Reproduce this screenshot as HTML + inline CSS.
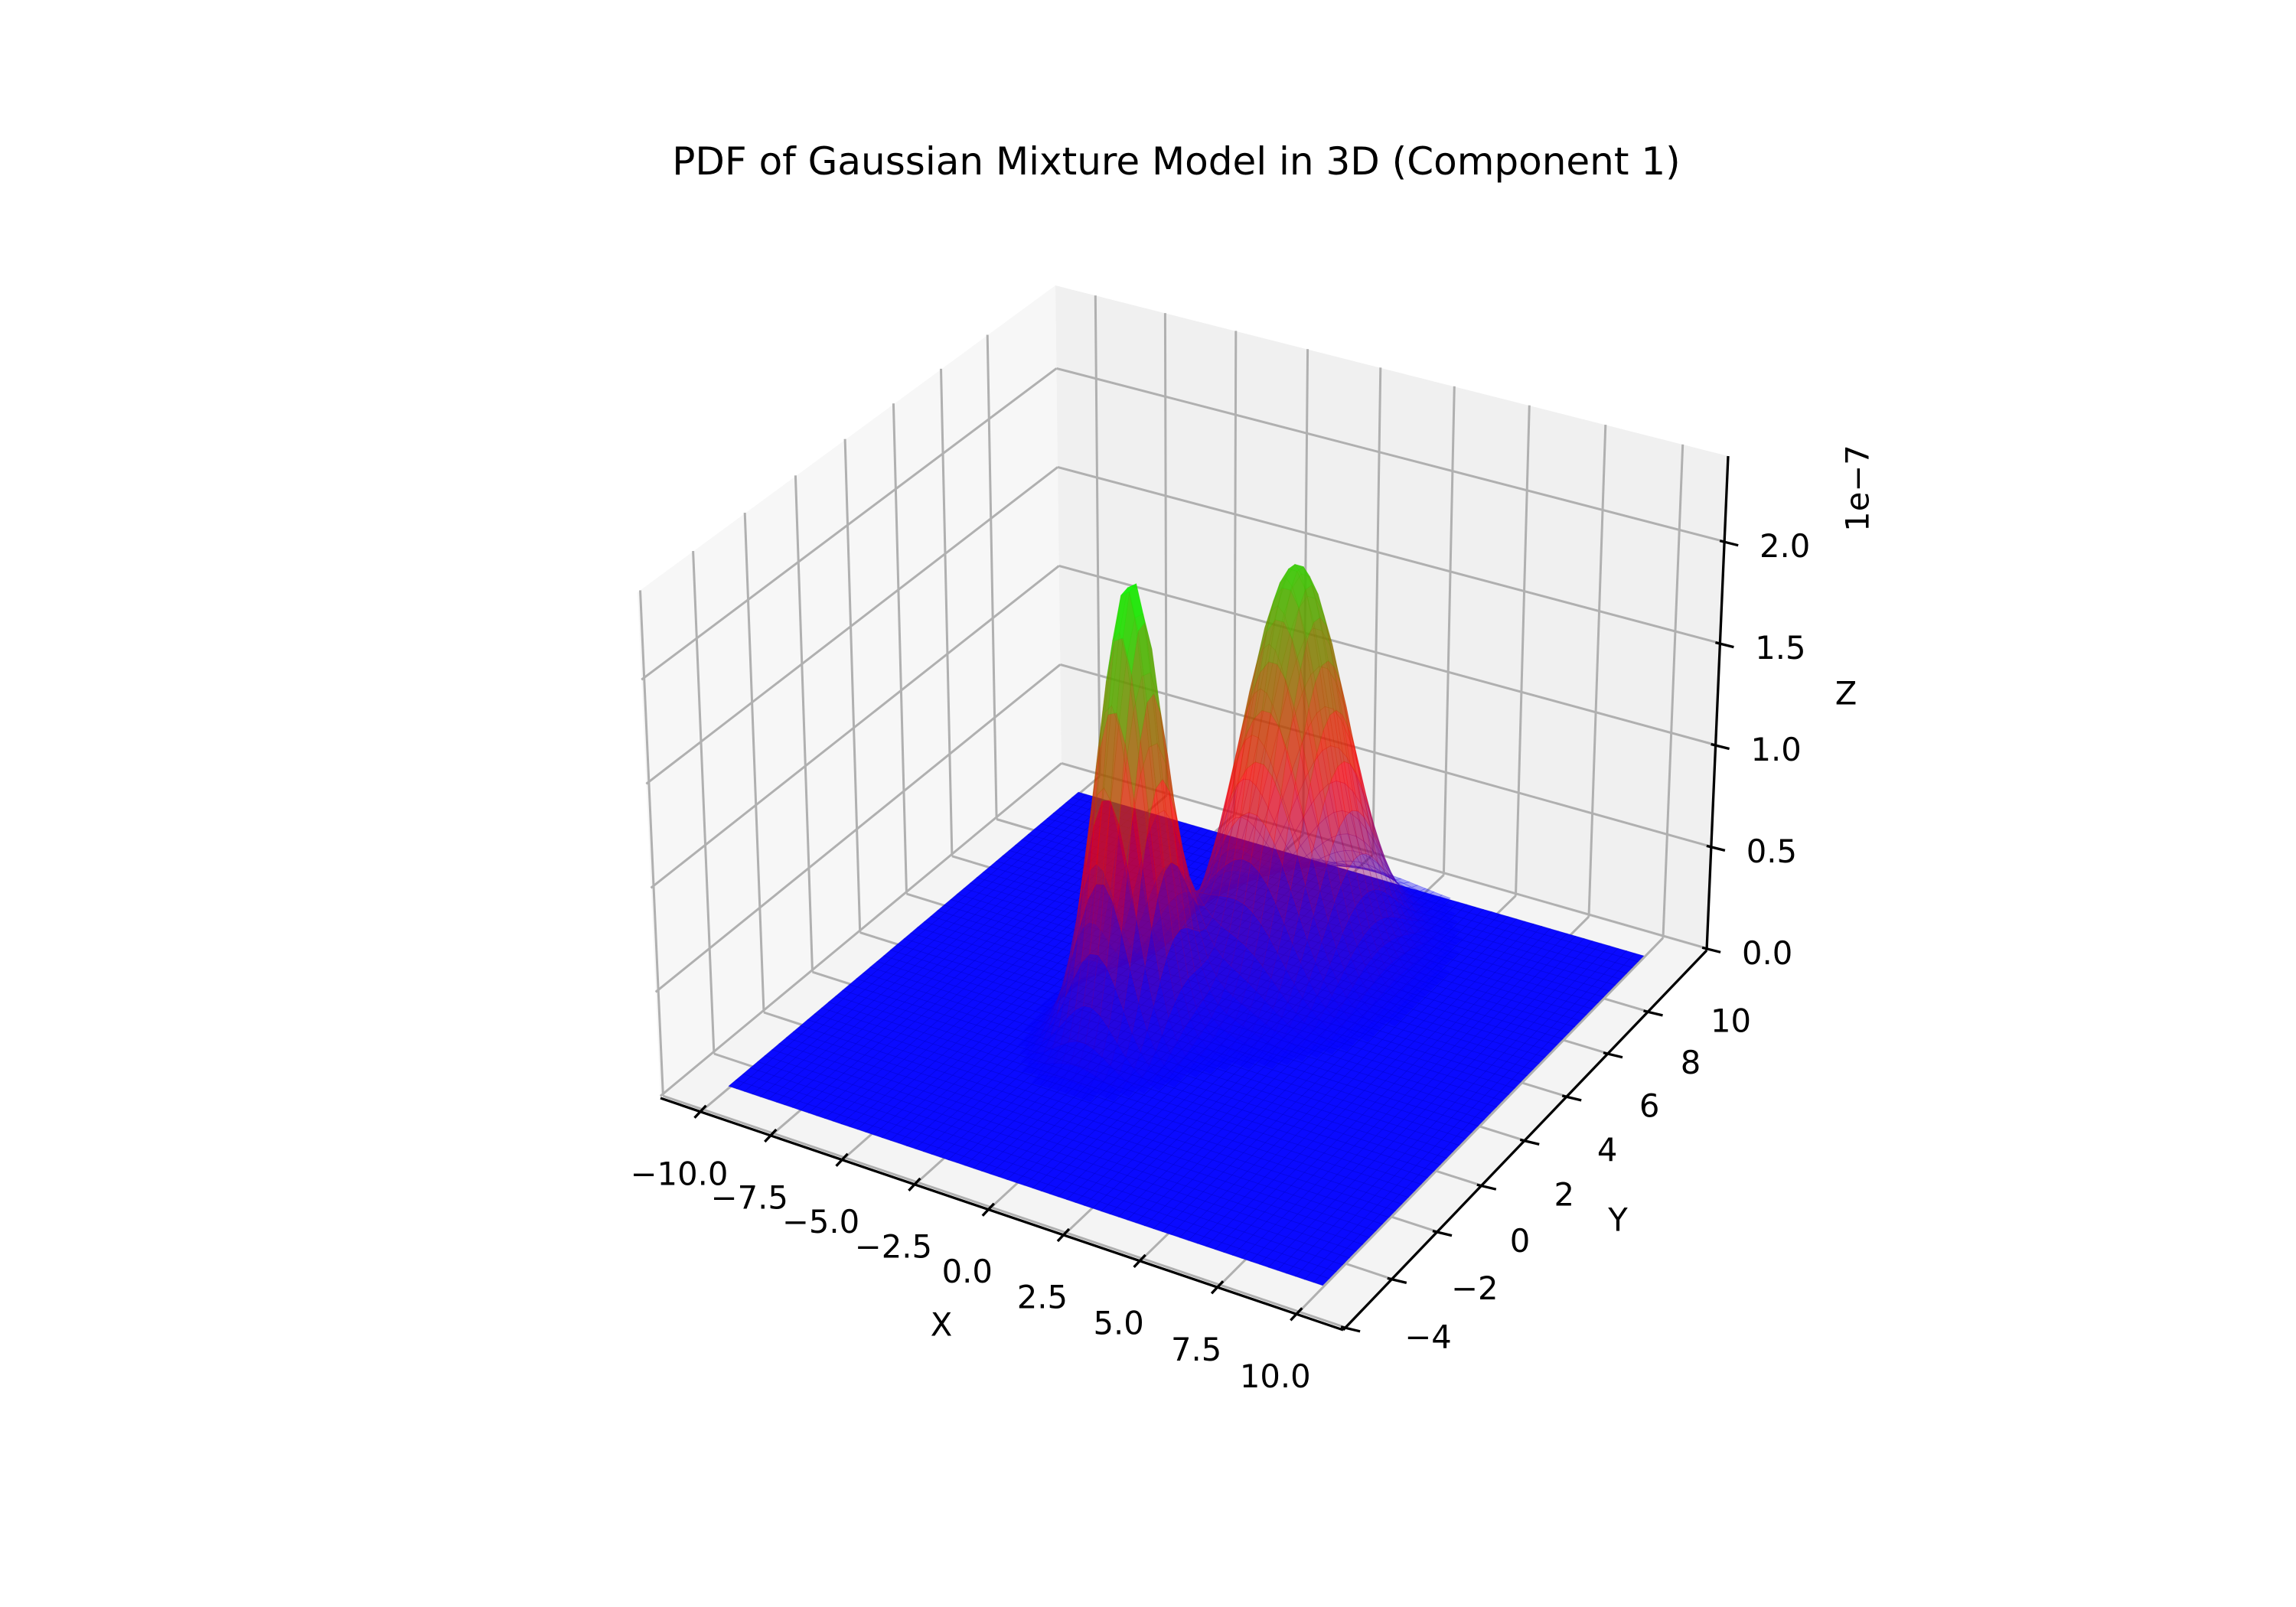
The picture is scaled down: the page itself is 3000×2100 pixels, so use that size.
<!DOCTYPE html>
<html><head><meta charset="utf-8">
<style>
html,body{margin:0;padding:0;background:#fff;}
svg{display:block;}
text{font-family:"DejaVu Sans","Liberation Sans",sans-serif;fill:#000;}
</style></head>
<body>
<svg id="chart" width="3000" height="2100" viewBox="0 0 3000 2100" xmlns="http://www.w3.org/2000/svg">
<rect x="0" y="0" width="3000" height="2100" fill="#fff"/>
<text x="1537" y="228" font-size="50" text-anchor="middle">PDF of Gaussian Mixture Model in 3D (Component 1)</text>
<g id="panes"></g>
<g id="grid"></g>
<g id="axes"></g>
<g id="surface"></g>
<g id="labels"></g>
<text x="1230" y="1731" font-size="41.7" text-anchor="middle" dominant-baseline="central">X</text>
<text x="2114" y="1594" font-size="41.7" text-anchor="middle" dominant-baseline="central">Y</text>
<text x="2412" y="906" font-size="41.7" text-anchor="middle" dominant-baseline="central">Z</text>
<text x="2427" y="638" font-size="41.7" text-anchor="middle" dominant-baseline="central" transform="rotate(-90 2427 638)">1e−7</text>
</svg>
<script>
// ---- data ----
const xTicks = [-10, -7.5, -5, -2.5, 0, 2.5, 5, 7.5, 10];
const xTickLabels = ["−10.0", "−7.5", "−5.0", "−2.5", "0.0", "2.5", "5.0", "7.5", "10.0"];
const yTicks = [-4, -2, 0, 2, 4, 6, 8, 10];
const yTickLabels = ["−4", "−2", "0", "2", "4", "6", "8", "10"];
const zTicks = [0, 0.5, 1.0, 1.5, 2.0];
const zTickLabels = ["0.0", "0.5", "1.0", "1.5", "2.0"];
const surfaceXRange = [-10, 10];
const surfaceYRange = [-3, 12];
const peakMeanX = [-1.25, 1.0];
const peakMeanY = [3.5, 7.8];
const peakSigmaX = [0.9, 1.4];
const peakSigmaY = [0.95, 1.5];
const peakHeight = [2.18, 1.95];   // units of 1e-7

// ---- axis limits & projection ----
const xlim = [-11.45, 11.45], ylim = [-4.1, 13.0], zlim = [-0.01, 2.42];
const A = [863,1435], B = [1755,1738], C = [2230,1242], D = [1387,1000];
const VA = [-30,-661], VB = [6,-680], VC = [28,-646], VD = [-8,-627];
const NS = "http://www.w3.org/2000/svg";

function homog(){
  const [x0,y0]=A,[x1,y1]=B,[x2,y2]=C,[x3,y3]=D;
  const dx1=x1-x2, dx2=x3-x2, dx3=x0-x1+x2-x3;
  const dy1=y1-y2, dy2=y3-y2, dy3=y0-y1+y2-y3;
  const den=dx1*dy2-dx2*dy1;
  const g=(dx3*dy2-dx2*dy3)/den, h=(dx1*dy3-dx3*dy1)/den;
  return {a:x1-x0+g*x1,b:x3-x0+h*x3,c:x0,d:y1-y0+g*y1,e:y3-y0+h*y3,f:y0,g:g,h:h};
}
const H = homog();
function P(x,y,z){
  const u=(x-xlim[0])/(xlim[1]-xlim[0]), v=(y-ylim[0])/(ylim[1]-ylim[0]), w=(z-zlim[0])/(zlim[1]-zlim[0]);
  const den=H.g*u+H.h*v+1;
  const X=(H.a*u+H.b*v+H.c)/den, Y=(H.d*u+H.e*v+H.f)/den;
  const vx=(1-u)*(1-v)*VA[0]+u*(1-v)*VB[0]+u*v*VC[0]+(1-u)*v*VD[0];
  const vy=(1-u)*(1-v)*VA[1]+u*(1-v)*VB[1]+u*v*VC[1]+(1-u)*v*VD[1];
  return [X+w*vx, Y+w*vy];
}
function poly(parent, pts, fill, name){
  const p=document.createElementNS(NS,"polygon");
  p.setAttribute("points", pts.map(q=>q[0].toFixed(1)+","+q[1].toFixed(1)).join(" "));
  p.setAttribute("fill", fill);
  
  
  parent.appendChild(p); return p;
}
function line(parent,p,q,color,w,name){
  const l=document.createElementNS(NS,"line");
  l.setAttribute("x1",p[0].toFixed(1));l.setAttribute("y1",p[1].toFixed(1));
  l.setAttribute("x2",q[0].toFixed(1));l.setAttribute("y2",q[1].toFixed(1));
  l.setAttribute("stroke",color);l.setAttribute("stroke-width",w);
  
  
  parent.appendChild(l);
}
function label(parent,x,y,txt,name){
  const t=document.createElementNS(NS,"text");
  t.setAttribute("x",x.toFixed(1));t.setAttribute("y",y.toFixed(1));
  t.setAttribute("font-size","41.7");t.setAttribute("text-anchor","middle");
  t.setAttribute("dominant-baseline","central");
  t.textContent=txt;
  
  
  parent.appendChild(t);
}

const [x0,x1]=xlim,[y0,y1]=ylim,[z0,z1]=zlim;
const panes=document.getElementById("panes");
poly(panes,[P(x0,y0,z0),P(x0,y1,z0),P(x0,y1,z1),P(x0,y0,z1)],"#f7f7f7","left-pane");
poly(panes,[P(x0,y1,z0),P(x1,y1,z0),P(x1,y1,z1),P(x0,y1,z1)],"#f0f0f0","back-pane");
poly(panes,[P(x0,y0,z0),P(x1,y0,z0),P(x1,y1,z0),P(x0,y1,z0)],"#f4f4f4","floor-pane");

const grid=document.getElementById("grid"), GC="#b0b0b0", GW=3;
xTicks.forEach(x=>{
  line(grid,P(x,y0,z0),P(x,y1,z0),GC,GW,"x-gridline-floor");
  line(grid,P(x,y1,z0),P(x,y1,z1),GC,GW,"x-gridline-back");
});
yTicks.forEach(y=>{
  line(grid,P(x0,y,z0),P(x1,y,z0),GC,GW,"y-gridline-floor");
  line(grid,P(x0,y,z0),P(x0,y,z1),GC,GW,"y-gridline-left");
});
zTicks.forEach(z=>{
  line(grid,P(x0,y0,z),P(x0,y1,z),GC,GW,"z-gridline-left");
  line(grid,P(x0,y1,z),P(x1,y1,z),GC,GW,"z-gridline-back");
});

const axes=document.getElementById("axes"), labels=document.getElementById("labels");
line(axes,P(x0,y0,z0),P(x1,y0,z0),"#000",3.3,"x-axis-line");
line(axes,P(x1,y0,z0),P(x1,y1,z0),"#000",3.3,"y-axis-line");
line(axes,P(x1,y1,z0),P(x1,y1,z1),"#000",3.3,"z-axis-line");
xTicks.forEach((x,i)=>{
  const p=P(x,y0,z0);
  line(axes,[p[0]+7,p[1]-8],[p[0]-8,p[1]+8],"#000",3.3,"x-tick");
  label(labels,p[0]-28,p[1]+81,xTickLabels[i],"x-tick-label");
});
yTicks.forEach((y,i)=>{
  const p=P(x1,y,z0);
  line(axes,[p[0]-6,p[1]-1],[p[0]+19,p[1]+5],"#000",3.3,"y-tick");
  label(labels,p[0]+108,p[1]+12,yTickLabels[i],"y-tick-label");
});
zTicks.forEach((z,i)=>{
  const p=P(x1,y1,z);
  line(axes,[p[0]-6,p[1]-1],[p[0]+18,p[1]+5],"#000",3.3,"z-tick");
  label(labels,p[0]+79,p[1]+6,zTickLabels[i],"z-tick-label");
});

// ---- surface ----
function pdf(x,y){
  let s=0;
  for(let k=0;k<peakHeight.length;k++){
    const dx=(x-peakMeanX[k])/peakSigmaX[k], dy=(y-peakMeanY[k])/peakSigmaY[k];
    s+=peakHeight[k]*Math.exp(-0.5*(dx*dx+dy*dy));
  }
  return s;
}
const NX=70, NY=52;
const zmaxPeak=Math.max(...peakHeight);
const xs=[],ys=[];
for(let i=0;i<=NX;i++) xs.push(surfaceXRange[0]+(surfaceXRange[1]-surfaceXRange[0])*i/NX);
for(let j=0;j<=NY;j++) ys.push(surfaceYRange[0]+(surfaceYRange[1]-surfaceYRange[0])*j/NY);
const Z=xs.map(x=>ys.map(y=>pdf(x,y)));
const surf=document.getElementById("surface");
for(let i=0;i<NX;i++)for(let j=0;j<NY;j++){
  const p=poly(surf,[P(xs[i],ys[j],0),P(xs[i+1],ys[j],0),P(xs[i+1],ys[j+1],0),P(xs[i],ys[j+1],0)],"rgb(10,10,255)","surface-base-cell");
  p.setAttribute("stroke","rgb(0,0,215)");
  p.setAttribute("stroke-opacity","0.6");
  p.setAttribute("stroke-width","0.8");
}
const cam=[0.433,-0.75,0.5];
const quads=[];
for(let i=0;i<NX;i++)for(let j=0;j<NY;j++){
  const zc=(Z[i][j]+Z[i+1][j]+Z[i+1][j+1]+Z[i][j+1])/4;
  if(zc/zmaxPeak<0.006) continue;
  const xc=(xs[i]+xs[i+1])/2, yc=(ys[j]+ys[j+1])/2;
  const depth=cam[0]*(xc-x0)/(x1-x0)+cam[1]*(yc-y0)/(y1-y0)+cam[2]*0.75*(zc-z0)/(z1-z0);
  quads.push({i,j,zc,depth});
}
quads.sort((a,b)=>a.depth-b.depth);
quads.forEach(q=>{
  const {i,j,zc}=q;
  const pts=[P(xs[i],ys[j],Z[i][j]),P(xs[i+1],ys[j],Z[i+1][j]),P(xs[i+1],ys[j+1],Z[i+1][j+1]),P(xs[i],ys[j+1],Z[i][j+1])];
  const t=zc/zmaxPeak;
  let r,g,b;
  const m=0.42;
  if(t<m){const s=t/m;r=255*s;g=0;b=255*(1-s);}
  else{const s=(t-m)/(1-m);r=255*(1-s);g=255*s;b=0;}
  const fill=`rgb(${r|0},${g|0},${b|0})`;
  const p=poly(surf,pts,fill,"surface-cell");
  p.setAttribute("fill-opacity",(0.35+0.4*t).toFixed(2));
  p.setAttribute("stroke",fill);
  p.setAttribute("stroke-opacity","0.25");
  p.setAttribute("stroke-width","0.8");
});
</script>
</body></html>
